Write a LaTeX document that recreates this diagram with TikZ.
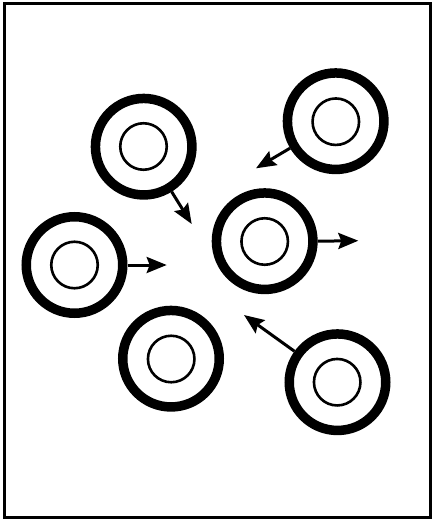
\documentclass[tikz,border=0pt]{standalone}
\usetikzlibrary{arrows.meta}
\begin{document}
\begin{tikzpicture}[x=1pt,y=-1pt,
  ring/.style={circle,draw,line width=9.5pt,minimum size=96.5pt,inner sep=0pt},
  core/.style={circle,draw,line width=2.6pt,minimum size=46.5pt,inner sep=0pt},
  motion/.style={line width=3pt,-{Stealth[length=20pt,width=16pt,inset=3pt]}}]
\useasboundingbox (0,0) rectangle (432,519);
\draw[line width=3pt] (4,4) rectangle (430,517);
% cells
\node[ring] (r1) at (143.7,146.7) {};
\node[core] (c1) at (143.5,146.5) {};
\node[ring] (r2) at (335.7,121.2) {};
\node[core] (c2) at (335.8,121.7) {};
\node[ring] (r3) at (264.7,241.2) {};
\node[core] (c3) at (264.7,241.5) {};
\node[ring] (r4) at (74.5,265) {};
\node[core] (c4) at (74.5,265) {};
\node[ring] (r5) at (171,358.7) {};
\node[core] (c5) at (171.2,359) {};
\node[ring] (r6) at (337.5,382.2) {};
\node[core] (c6) at (337.2,382.2) {};
% arrow tips
\coordinate (t1) at (191.7,224);
\coordinate (t2) at (256,168.3);
\coordinate (t3) at (358.3,240.7);
\coordinate (t4) at (166.7,265);
\coordinate (t6) at (244,315);
\draw[motion] (r1) -- (t1);
\draw[motion] (r2) -- (t2);
\draw[motion] (r3.east) -- (t3);
\draw[motion] (r4.east) -- (t4);
\draw[motion] (r6) -- (t6);
\end{tikzpicture}
\end{document}
